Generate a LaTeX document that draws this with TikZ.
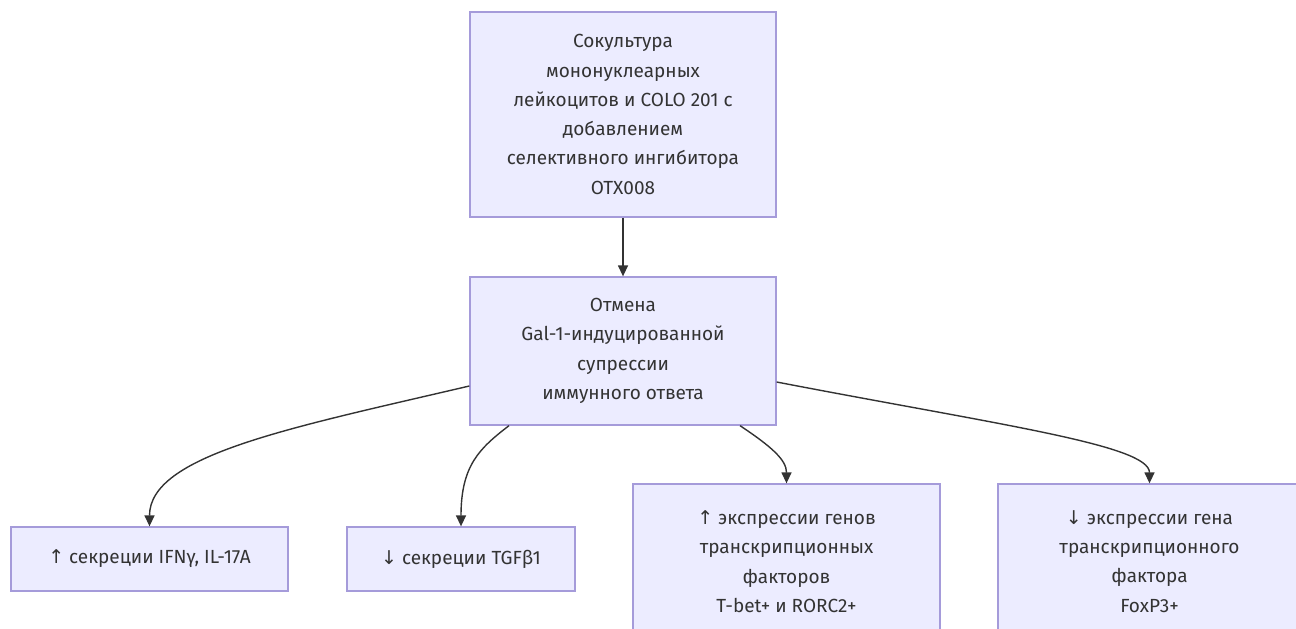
\documentclass[tikz,border=0pt]{standalone}
\usepackage{fontspec}
\setmainfont{Fira Sans}
\newfontfamily\arrowfont{DejaVu Sans}
\usetikzlibrary{arrows.meta}
\definecolor{boxfill}{HTML}{ECECFF}
\definecolor{boxline}{HTML}{A59BDA}
\definecolor{inkgray}{HTML}{333333}
\tikzset{
	flowbox/.style={draw=boxline, fill=boxfill, line width=1.3pt, text=inkgray, align=center,
		font=\fontsize{19}{29.3}\selectfont, inner sep=0pt},
	edge/.style={draw=inkgray, line width=1.4pt, -{Triangle[length=11pt,width=10pt]}},
}
\begin{document}
\begin{tikzpicture}[x=1pt, y=-1pt]
			%%%%% START %%%%%
			
			\clip (0, 0) rectangle (1296, 629);
			
			\node[flowbox, minimum width=306pt, minimum height=205pt] (cocult) at (623, 114.5)
				{Сокультура\\мононуклеарных\\лейкоцитов и COLO 201 с\\добавлением\\селективного ингибитора\\OTX008};
			\node[flowbox, minimum width=306pt, minimum height=148pt] (cancel) at (623, 351)
				{Отмена\\Gal-1-индуцированной\\супрессии\\иммунного ответа};
			
			\node[flowbox, minimum width=277pt, minimum height=64pt] (ifng) at (149.5, 559)
				{{\arrowfont ↑} секреции IFNγ, IL-17A};
			\node[flowbox, minimum width=228pt, minimum height=64pt] (tgfb) at (461, 559)
				{{\arrowfont ↓} секреции TGFβ1};
			\node[flowbox, minimum width=307pt, minimum height=155pt] (tbet) at (786.5, 561.5)
				{{\arrowfont ↑} экспрессии генов\\транскрипционных\\факторов\\T-bet+ и RORC2+};
			\node[flowbox, minimum width=303pt, minimum height=155pt] (foxp) at (1149.5, 561.5)
				{{\arrowfont ↓} экспрессии гена\\транскрипционного\\фактора\\FoxP3+};
			
			\draw[edge] (cocult) -- (cancel);
			
			\draw[edge] ([yshift=-35pt]cancel.west) .. controls (290, 428) and (149.5, 455) .. (ifng.north);
			\draw[edge] ([xshift=-114pt]cancel.south) .. controls (480, 448) and (461, 465) .. (tgfb.north);
			\draw[edge] ([xshift=117pt]cancel.south) .. controls (772, 447) and (786.5, 460) .. (tbet.north);
			\draw[edge] ([yshift=-31pt]cancel.east) .. controls (1000, 425) and (1149.5, 445) .. (foxp.north);
			
			%%%%% END %%%%%
\end{tikzpicture}
\end{document}
